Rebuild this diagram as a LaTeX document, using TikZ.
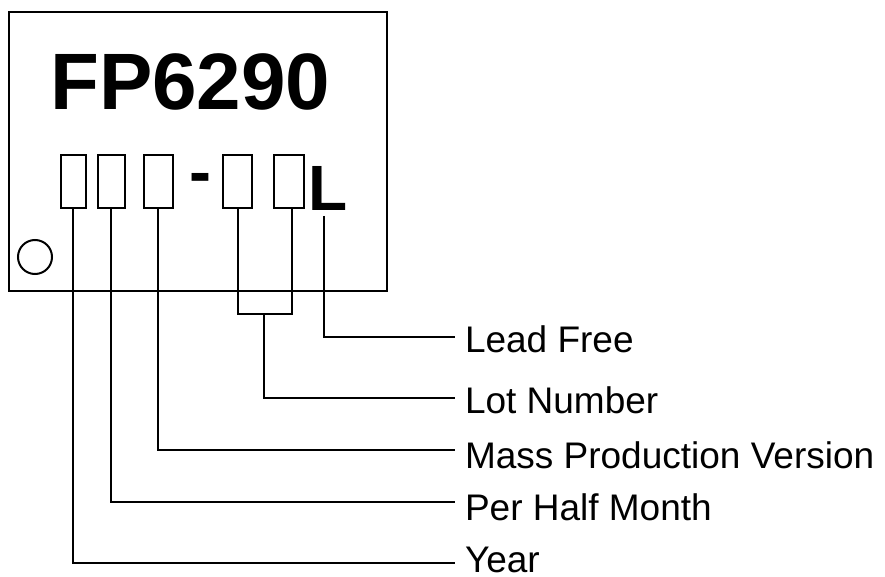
\documentclass[tikz,border=0pt]{standalone}
\usepackage{fontspec}
\setmainfont{Liberation Sans}
\begin{document}
\begin{tikzpicture}[x=1pt,y=-1pt, line width=2pt,
  cell/.style={draw, inner sep=0pt, minimum height=53pt},
  lbl/.style={anchor=base west, inner sep=0pt, font=\fontsize{37}{40}\selectfont},
  big/.style={anchor=base west, inner sep=0pt, font=\bfseries\fontsize{#1}{#1}\selectfont}]
\useasboundingbox (0,0) rectangle (885,577);
% chip outline
\node[draw, inner sep=0pt, minimum width=378pt, minimum height=279pt] (chip) at (198,151.5) {};
\node[big=80] (part) at (49.2,110) {FP6290};
% code cells
\node[cell, minimum width=25pt] (b1) at (73,181.5) {};
\node[cell, minimum width=27pt] (b2) at (111,181.5) {};
\node[cell, minimum width=29pt] (b3) at (158,181.5) {};
\node[big=66] (dash) at (188.5,195) {-};
\node[cell, minimum width=29pt] (b4) at (237.5,181.5) {};
\node[cell, minimum width=30pt] (b5) at (289,181.5) {};
\node[big=64] (lf) at (307.3,211) {L};
% pin-1 mark
\node[draw, circle, inner sep=0pt, minimum size=34pt] (pin) at (35,257) {};
% labels
\node[lbl] (tLF) at (464,352) {Lead Free};
\node[lbl] (tLN) at (464,413) {Lot Number};
\node[lbl] (tMP) at (464,468) {Mass Production Version};
\node[lbl] (tPH) at (464,520) {Per Half Month};
\node[lbl] (tY)  at (464,572) {Year};
% leader ends
\coordinate (eLF) at (455,337);
\coordinate (eLN) at (455,398);
\coordinate (eMP) at (455,450);
\coordinate (ePH) at (455,502);
\coordinate (eY)  at (455,563);
\coordinate (br) at (264,314);
\coordinate (Lt) at (324,216);
% leaders
\draw (b1.south) |- (eY);
\draw (b2.south) |- (ePH);
\draw (b3.south) |- (eMP);
\draw (b4.south) |- (br) -| ([xshift=2.5pt]b5.south);
\draw (br) |- (eLN);
\draw (Lt) |- (eLF);
\end{tikzpicture}
\end{document}
